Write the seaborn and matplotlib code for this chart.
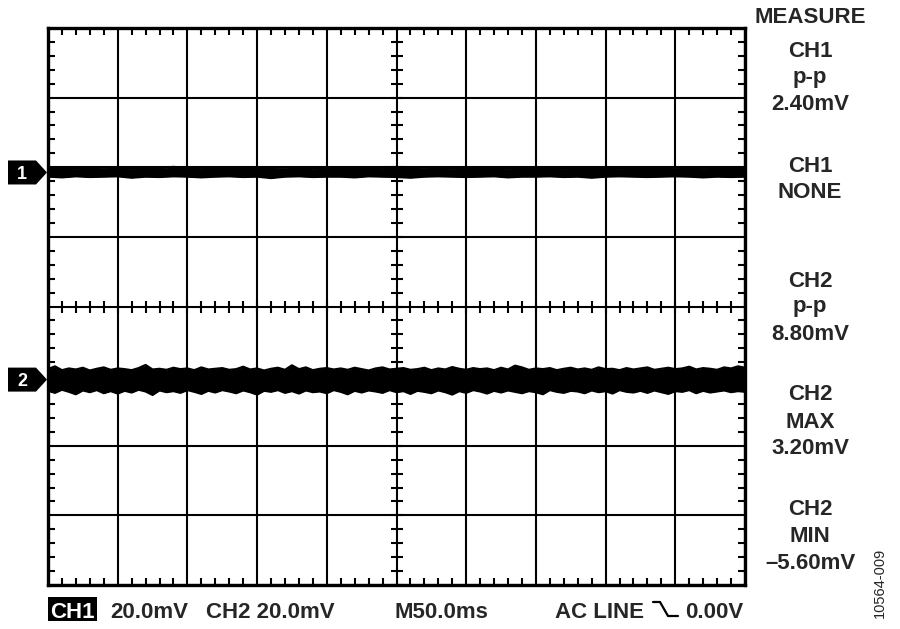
import numpy as np
import pandas as pd
import matplotlib
matplotlib.use("Agg")
import matplotlib.pyplot as plt
import seaborn as sns
from matplotlib.patches import Polygon, Rectangle
from matplotlib.lines import Line2D

# scope settings
time_div_ms = 50.0
volt_div_mv = 20.0
ch1_offset = 38.5   # screen position of CH1 ground, mV
ch2_offset = -21.0  # screen position of CH2 ground, mV

# trace envelopes (mV around each ground marker)
ch1_upper = [1.2, 1.3, 1.1, 1.2, 1.4, 1.2, 1.1, 1.3, 1.2, 1.6, 1.2, 1.1, 1.3, 1.2, 1.2, 1.1, 1.3,
             1.4, 1.2, 1.1, 1.2, 1.3, 1.2, 1.2, 1.1, 1.3, 1.2, 1.4, 1.2, 1.1, 1.2, 1.3, 1.2, 1.1,
             1.2, 1.2, 1.3, 1.1, 1.2, 1.3, 1.2, 1.1, 1.3, 1.2, 1.2, 1.4, 1.2, 1.1, 1.2, 1.3, 1.2]
ch1_lower = [-1.2, -1.4, -1.1, -1.3, -1.2, -1.1, -1.5, -1.2, -1.3, -1.1, -1.2, -1.4, -1.2, -1.1,
             -1.3, -1.2, -1.6, -1.2, -1.1, -1.3, -1.2, -1.2, -1.4, -1.1, -1.2, -1.3, -1.5, -1.2,
             -1.1, -1.2, -1.3, -1.2, -1.1, -1.4, -1.2, -1.2, -1.1, -1.3, -1.2, -1.5, -1.2, -1.1,
             -1.2, -1.3, -1.2, -1.1, -1.2, -1.4, -1.2, -1.3, -1.2]
ch2_upper = [3.0, 3.8, 2.7, 3.2, 2.9, 3.4, 2.6, 3.1, 3.5, 2.8, 3.2, 3.0, 2.7, 3.3, 4.2, 2.9, 3.1,
             2.8, 3.4, 3.0, 3.2, 2.7, 3.5, 2.9, 3.1, 3.3, 2.8, 3.0, 3.7, 2.9, 3.2, 2.6, 3.1, 3.4,
             2.8, 4.1, 3.0, 3.5, 2.7, 3.1, 3.3, 2.9, 3.2, 2.8, 3.4, 3.0, 2.6, 3.2, 3.5, 2.9, 3.1,
             3.3, 2.8, 3.0, 3.4, 2.7, 3.2, 2.9, 3.6, 3.1, 2.8, 3.3, 3.0, 3.2, 2.7, 3.4, 2.9, 4.0,
             3.5, 2.8, 3.2, 3.0, 3.3, 2.7, 3.1, 3.4, 2.9, 3.2, 2.8, 3.5, 3.0, 3.1, 2.7, 3.3, 2.9,
             3.2, 3.5, 2.8, 3.1, 3.4, 3.0, 3.2, 3.7, 2.9, 3.3, 3.1, 2.8, 3.5, 3.2, 3.8, 3.4]
ch2_lower = [-3.2, -3.8, -2.9, -3.5, -4.2, -3.1, -3.6, -3.0, -3.9, -3.3, -4.0, -3.2, -3.7, -2.9,
             -3.4, -4.4, -3.1, -3.6, -3.3, -3.8, -3.0, -3.5, -4.1, -3.2, -3.7, -3.0, -3.4, -3.9,
             -3.1, -3.6, -4.3, -3.2, -3.5, -3.0, -3.8, -3.3, -4.0, -3.1, -3.6, -3.4, -3.9, -3.0,
             -3.5, -4.2, -3.2, -3.7, -3.1, -3.4, -3.8, -3.0, -3.6, -3.3, -4.1, -3.2, -3.5, -3.9,
             -3.1, -3.6, -4.3, -3.3, -3.8, -3.0, -3.4, -4.0, -3.2, -3.7, -3.1, -3.5, -3.9, -3.3,
             -3.6, -4.2, -3.0, -3.5, -3.8, -3.2, -3.4, -3.9, -3.1, -3.6, -3.3, -4.0, -3.0, -3.5,
             -3.7, -3.2, -3.8, -3.1, -3.6, -4.1, -3.3, -3.5, -3.0, -3.9, -3.2, -3.7, -3.4, -3.1,
             -3.6, -3.3, -3.5]

measure_lines = ["MEASURE", "CH1", "p-p", "2.40mV", "CH1", "NONE", "CH2", "p-p", "8.80mV",
                 "CH2", "MAX", "3.20mV", "CH2", "MIN", "\u20135.60mV"]
measure_base_px = [23, 57, 83, 110, 172, 198, 287, 312, 340, 400, 428, 454, 515, 542, 569]

W, H = 900, 629
sns.set_style("white")
plt.rcParams["font.family"] = ["Liberation Sans", "DejaVu Sans"]

fig = plt.figure(figsize=(W / 100, H / 100), dpi=100)
fx = lambda px: px / W
fy = lambda py: 1 - py / H
ax = fig.add_axes([fx(48), fy(585), fx(745) - fx(48), fy(28) - fy(585)])

ch1 = pd.DataFrame({"t": np.linspace(0, 10 * time_div_ms, len(ch1_upper)),
                    "hi": np.array(ch1_upper) + ch1_offset,
                    "lo": np.array(ch1_lower) + ch1_offset})
ch2 = pd.DataFrame({"t": np.linspace(0, 10 * time_div_ms, len(ch2_upper)),
                    "hi": np.array(ch2_upper) + ch2_offset,
                    "lo": np.array(ch2_lower) + ch2_offset})

for df in (ch1, ch2):
    ax.fill_between(df["t"], df["lo"], df["hi"], color="black", lw=0, zorder=4)
    sns.lineplot(data=df, x="t", y="hi", color="black", lw=1.6, ax=ax, zorder=4)
    sns.lineplot(data=df, x="t", y="lo", color="black", lw=1.6, ax=ax, zorder=4)

ax.set_xlim(0, 10 * time_div_ms)
ax.set_ylim(-4 * volt_div_mv, 4 * volt_div_mv)
ax.set_xticks(np.arange(0, 10 * time_div_ms + 1, time_div_ms))
ax.set_yticks(np.arange(-4 * volt_div_mv, 4 * volt_div_mv + 1, volt_div_mv))
ax.set_xticks(np.arange(0, 10 * time_div_ms + 1, time_div_ms / 5), minor=True)
ax.set_yticks(np.arange(-4 * volt_div_mv, 4 * volt_div_mv + 1, volt_div_mv / 5), minor=True)
ax.set_xticklabels([])
ax.set_yticklabels([])
ax.set_xlabel("")
ax.set_ylabel("")
ax.tick_params(which="major", length=0)
ax.tick_params(which="minor", direction="in", length=5, width=1.5, color="black",
               top=True, right=True, bottom=True, left=True)
ax.grid(True, which="major", color="black", lw=1.5)
for s in ax.spines.values():
    s.set_visible(True)
    s.set_color("black")
    s.set_linewidth(2.4)
    s.set_zorder(5)

# center crosshair ticks
minor_t = np.arange(0, 10 * time_div_ms + 1, time_div_ms / 5)
minor_v = np.arange(-4 * volt_div_mv, 4 * volt_div_mv + 1, volt_div_mv / 5)
ax.plot(minor_t, np.zeros_like(minor_t), ls="none", marker="|", ms=8, mew=1.5, color="black")
ax.plot(np.full_like(minor_v, 5 * time_div_ms), minor_v, ls="none", marker="_", ms=8, mew=1.5,
        color="black")

# channel ground markers
inv = fig.transFigure.inverted()
for label, off in (("1", ch1_offset), ("2", ch2_offset)):
    tx, ty = ax.transData.transform((0, off))
    pts = [(tx - 40, ty + 12), (tx - 12, ty + 12), (tx - 1, ty), (tx - 12, ty - 12),
           (tx - 40, ty - 12)]
    fig.add_artist(Polygon(inv.transform(pts), closed=True, facecolor="black",
                           edgecolor="none", transform=fig.transFigure))
    cx, cy = inv.transform((tx - 26, ty))
    fig.text(cx, cy, label, color="white", fontsize=13, fontweight="bold",
             ha="center", va="center_baseline")

# measurement column
for txt, by in zip(measure_lines, measure_base_px):
    fig.text(fx(810), fy(by), txt, fontsize=16, fontweight="bold", ha="center", va="baseline")

# bottom status line
base = fy(618)
fig.add_artist(Rectangle((fx(48), fy(621)), fx(97) - fx(48), fy(597) - fy(621),
                         facecolor="black", edgecolor="none", transform=fig.transFigure))
fig.text(fx(72.5), base, "CH1", color="white", fontsize=16, fontweight="bold", ha="center",
         va="baseline")
fig.text(fx(110), base, "20.0mV", fontsize=16, fontweight="bold", ha="left", va="baseline")
fig.text(fx(206), base, "CH2 20.0mV", fontsize=16, fontweight="bold", ha="left", va="baseline")
fig.text(fx(395), base, "M50.0ms", fontsize=16, fontweight="bold", ha="left", va="baseline")
fig.text(fx(555), base, "AC LINE", fontsize=16, fontweight="bold", ha="left", va="baseline")
fig.add_artist(Line2D([fx(653), fx(660), fx(668), fx(678)], [fy(602), fy(602), fy(616), fy(616)],
                      color="black", lw=1.6, transform=fig.transFigure))
fig.text(fx(743), base, "0.00V", fontsize=16, fontweight="bold", ha="right", va="baseline")

fig.text(fx(880), fy(583), "10564-009", fontsize=10.5, rotation=90, ha="center", va="center")

fig.savefig("out.png", dpi=100)
